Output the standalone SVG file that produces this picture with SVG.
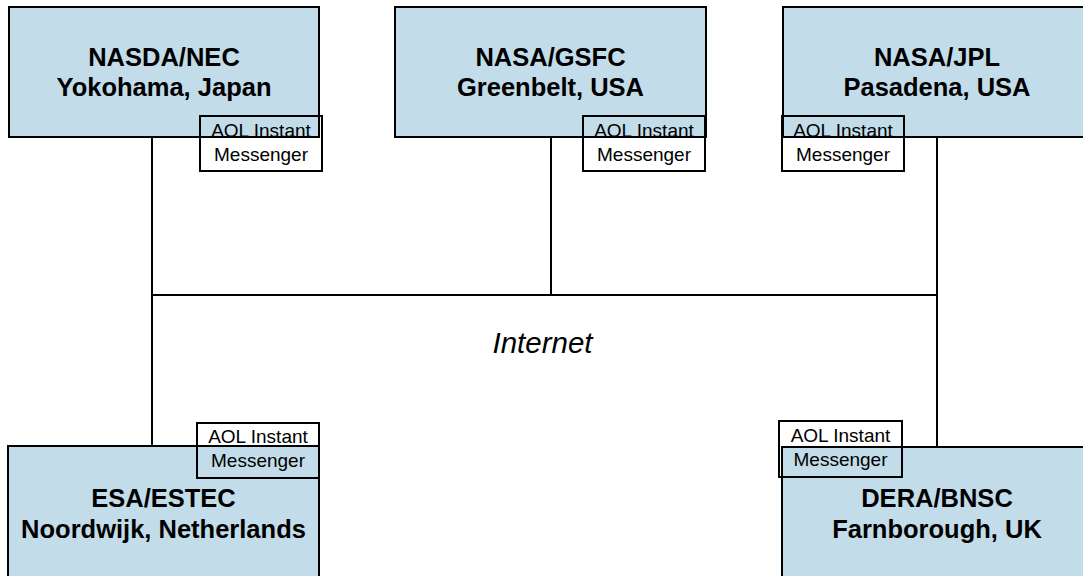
<svg xmlns="http://www.w3.org/2000/svg" width="1083" height="576" viewBox="0 0 1083 576">
<style>
.site{fill:#c2dcea;stroke:#000;stroke-width:2}
.aol{fill:none;stroke:#000;stroke-width:2}
.t{font-family:"Liberation Sans",Arial,sans-serif;font-weight:bold;font-size:25.5px;text-anchor:middle;fill:#000}
.s{font-family:"Liberation Sans",Arial,sans-serif;font-size:19px;text-anchor:middle;fill:#000}
.net{font-family:"Liberation Sans",Arial,sans-serif;font-style:italic;font-size:29.5px;text-anchor:middle;fill:#000}
.c{stroke:#000;stroke-width:2;fill:none}
</style>
<rect width="1083" height="576" fill="#fff"/>
<g id="connectors">
<path class="c" d="M152 137V446M551 137V295M937 137V448M152 295H937"/>
</g>
<g id="nasda">
<rect class="site" x="9" y="7" width="310" height="130"/>
<text class="t" x="164" y="66">NASDA/NEC</text>
<text class="t" x="164" y="96">Yokohama, Japan</text>
<rect class="aol" x="200" y="116" width="122" height="55"/>
<text class="s" x="261" y="137">AOL Instant</text>
<text class="s" x="261" y="161">Messenger</text>
</g>
<g id="gsfc">
<rect class="site" x="395" y="7" width="311" height="130"/>
<text class="t" x="550.5" y="66">NASA/GSFC</text>
<text class="t" x="550.5" y="96">Greenbelt, USA</text>
<rect class="aol" x="583" y="116" width="122" height="55"/>
<text class="s" x="644" y="137">AOL Instant</text>
<text class="s" x="644" y="161">Messenger</text>
</g>
<g id="jpl">
<rect class="site" x="783" y="7" width="310" height="130"/>
<text class="t" x="937" y="66">NASA/JPL</text>
<text class="t" x="937" y="96">Pasadena, USA</text>
<rect class="aol" x="782" y="116" width="122" height="55"/>
<text class="s" x="843" y="137">AOL Instant</text>
<text class="s" x="843" y="161">Messenger</text>
</g>
<g id="internet">
<text class="net" x="542.5" y="353">Internet</text>
</g>
<g id="esa">
<rect class="site" x="8" y="446" width="311" height="140"/>
<text class="t" x="163.5" y="507">ESA/ESTEC</text>
<text class="t" x="163.5" y="538">Noordwijk, Netherlands</text>
<rect class="aol" x="197" y="423" width="122" height="55"/>
<text class="s" x="258" y="443">AOL Instant</text>
<text class="s" x="258" y="467">Messenger</text>
</g>
<g id="dera">
<rect class="site" x="782" y="447" width="310" height="140"/>
<text class="t" x="937" y="507">DERA/BNSC</text>
<text class="t" x="937" y="538">Farnborough, UK</text>
<rect class="aol" x="779" y="421" width="123" height="56"/>
<text class="s" x="840.5" y="442">AOL Instant</text>
<text class="s" x="840.5" y="466">Messenger</text>
</g>
</svg>
